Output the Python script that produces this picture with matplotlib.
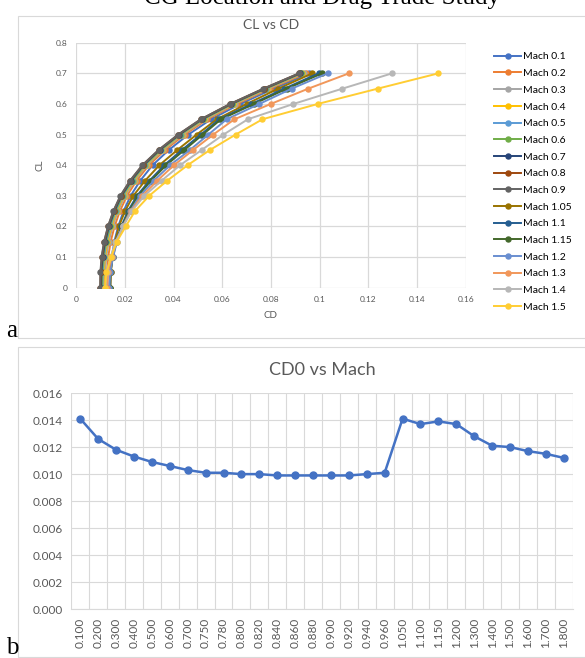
import matplotlib
matplotlib.use("Agg")
import matplotlib.pyplot as plt
from matplotlib.patches import Rectangle
from matplotlib.ticker import FuncFormatter

W, H = 585, 658

# ---- panel a data: CD for each Mach at CL = 0 .. 0.7 ----
cl = [0, 0.05, 0.1, 0.15, 0.2, 0.25, 0.3, 0.35, 0.4, 0.45, 0.5, 0.55, 0.6, 0.65, 0.7]

mach_labels = ["Mach 0.1", "Mach 0.2", "Mach 0.3", "Mach 0.4", "Mach 0.5", "Mach 0.6",
               "Mach 0.7", "Mach 0.8", "Mach 0.9", "Mach 1.05", "Mach 1.1", "Mach 1.15",
               "Mach 1.2", "Mach 1.3", "Mach 1.4", "Mach 1.5"]

cd_m01 = [0.0141, 0.0142, 0.0147, 0.0157, 0.0173, 0.0195, 0.0224, 0.0264, 0.0314, 0.0381, 0.0461, 0.0554, 0.0674, 0.0811, 0.0957]
cd_m02 = [0.0126, 0.0127, 0.0132, 0.0142, 0.0158, 0.0180, 0.0209, 0.0249, 0.0299, 0.0366, 0.0446, 0.0539, 0.0659, 0.0796, 0.0942]
cd_m03 = [0.0118, 0.0119, 0.0124, 0.0134, 0.0150, 0.0172, 0.0201, 0.0241, 0.0291, 0.0358, 0.0438, 0.0531, 0.0651, 0.0788, 0.0934]
cd_m04 = [0.0113, 0.0114, 0.0119, 0.0129, 0.0145, 0.0167, 0.0196, 0.0236, 0.0286, 0.0353, 0.0433, 0.0526, 0.0646, 0.0783, 0.0929]
cd_m05 = [0.0109, 0.0110, 0.0115, 0.0125, 0.0141, 0.0163, 0.0192, 0.0232, 0.0282, 0.0349, 0.0429, 0.0522, 0.0642, 0.0779, 0.0925]
cd_m06 = [0.0106, 0.0107, 0.0112, 0.0122, 0.0138, 0.0160, 0.0189, 0.0229, 0.0279, 0.0346, 0.0426, 0.0519, 0.0639, 0.0776, 0.0922]
cd_m07 = [0.0103, 0.0104, 0.0109, 0.0119, 0.0135, 0.0157, 0.0186, 0.0226, 0.0276, 0.0343, 0.0423, 0.0516, 0.0636, 0.0773, 0.0919]
cd_m08 = [0.0100, 0.0101, 0.0106, 0.0116, 0.0132, 0.0154, 0.0183, 0.0223, 0.0273, 0.0340, 0.0420, 0.0513, 0.0633, 0.0770, 0.0916]
cd_m09 = [0.0099, 0.0100, 0.0105, 0.0115, 0.0131, 0.0153, 0.0182, 0.0222, 0.0272, 0.0339, 0.0419, 0.0512, 0.0632, 0.0769, 0.0915]
cd_m105 = [0.0141, 0.0143, 0.0150, 0.0160, 0.0176, 0.0201, 0.0235, 0.0284, 0.0342, 0.0416, 0.0495, 0.0578, 0.0700, 0.0830, 0.0970]
cd_m11 = [0.0137, 0.0139, 0.0149, 0.0164, 0.0186, 0.0213, 0.0250, 0.0302, 0.0362, 0.0435, 0.0512, 0.0588, 0.0720, 0.0855, 0.0995]
cd_m115 = [0.0139, 0.0141, 0.0151, 0.0166, 0.0189, 0.0217, 0.0255, 0.0308, 0.0370, 0.0445, 0.0520, 0.0595, 0.0730, 0.0865, 0.1010]
cd_m12 = [0.0137, 0.0140, 0.0152, 0.0168, 0.0192, 0.0222, 0.0263, 0.0320, 0.0386, 0.0468, 0.0543, 0.0618, 0.0752, 0.0885, 0.1033]
cd_m13 = [0.0128, 0.0132, 0.0146, 0.0165, 0.0192, 0.0225, 0.0272, 0.0334, 0.0402, 0.0481, 0.0563, 0.0650, 0.0799, 0.0953, 0.1120]
cd_m14 = [0.0121, 0.0126, 0.0142, 0.0162, 0.0193, 0.0228, 0.0280, 0.0352, 0.0427, 0.0516, 0.0605, 0.0705, 0.0892, 0.1093, 0.1297]
cd_m15 = [0.0119, 0.0125, 0.0144, 0.0167, 0.0204, 0.0242, 0.0300, 0.0375, 0.0458, 0.0550, 0.0655, 0.0765, 0.0992, 0.1238, 0.1487]

cd_series = [cd_m01, cd_m02, cd_m03, cd_m04, cd_m05, cd_m06, cd_m07, cd_m08, cd_m09,
             cd_m105, cd_m11, cd_m115, cd_m12, cd_m13, cd_m14, cd_m15]

colors = ["#4472C4", "#ED7D31", "#A5A5A5", "#FFC000", "#5B9BD5", "#70AD47",
          "#264478", "#9E480E", "#636363", "#997300", "#255E91", "#43682B",
          "#698ED0", "#F1975A", "#B7B7B7", "#FFCD33"]

# ---- panel b data: CD0 vs Mach ----
mach_cats = ["0.100", "0.200", "0.300", "0.400", "0.500", "0.600", "0.700", "0.750",
             "0.780", "0.800", "0.820", "0.840", "0.860", "0.880", "0.900", "0.920",
             "0.940", "0.960", "1.050", "1.100", "1.150", "1.200", "1.300", "1.400",
             "1.500", "1.600", "1.700", "1.800"]
cd0 = [0.0141, 0.0126, 0.0118, 0.0113, 0.0109, 0.0106, 0.0103, 0.0101,
       0.0101, 0.0100, 0.0100, 0.0099, 0.0099, 0.0099, 0.0099, 0.0099,
       0.0100, 0.0101, 0.0141, 0.0137, 0.0139, 0.0137, 0.0128, 0.0121,
       0.0120, 0.0117, 0.0115, 0.0112]

plt.rcParams['font.family'] = ['Lato', 'DejaVu Sans']
txt = "#595959"
grid = "#D9D9D9"

fig = plt.figure(figsize=(W / 100, H / 100), dpi=100)


def fx(px):
    return px / W


def fy(py):
    return 1 - py / H


# panel frames
fig.patches.append(Rectangle((fx(18), fy(338)), fx(570), (338 - 16) / H, transform=fig.transFigure,
                             fill=False, edgecolor=grid, linewidth=0.8))
fig.patches.append(Rectangle((fx(18), fy(656.5)), fx(570), (656.5 - 346.5) / H, transform=fig.transFigure,
                             fill=False, edgecolor=grid, linewidth=0.8))

# caption of the page above, only its lower edge is in view
fig.text(0.55, fy(4), "CG Location and Drag Trade Study", ha="center", va="baseline",
         fontsize=18, family="Liberation Serif", color="black")
fig.text(fx(6), fy(337), "a", fontsize=18, family="Liberation Serif", color="black")
fig.text(fx(6), fy(654), "b", fontsize=18, family="Liberation Serif", color="black")

# ---- panel a ----
ax1 = fig.add_axes([fx(76), fy(287.7), 390 / W, 245 / H])
for cd, c, lab in zip(cd_series, colors, mach_labels):
    ax1.plot(cd, cl, color=c, linewidth=1.4, marker="o", markersize=3.6, label=lab)
ax1.set_xlim(0, 0.16)
ax1.set_ylim(0, 0.8)
ax1.set_xticks([0, 0.02, 0.04, 0.06, 0.08, 0.1, 0.12, 0.14, 0.16])
ax1.set_yticks([0, 0.1, 0.2, 0.3, 0.4, 0.5, 0.6, 0.7, 0.8])
fmt = FuncFormatter(lambda v, p: f"{v:g}")
ax1.xaxis.set_major_formatter(fmt)
ax1.yaxis.set_major_formatter(fmt)
ax1.grid(True, color=grid, linewidth=0.9)
ax1.set_axisbelow(True)
for s in ax1.spines.values():
    s.set_visible(False)
ax1.tick_params(length=0, labelsize=6, colors=txt, pad=6)
ax1.set_title("CL vs CD", fontsize=10, color=txt, pad=10)
ax1.set_xlabel("CD", fontsize=7, color=txt, labelpad=6)
ax1.set_ylabel("CL", fontsize=7, color=txt, labelpad=8)

fig.legend(*ax1.get_legend_handles_labels(), loc="upper left",
           bbox_to_anchor=(fx(490), fy(48)), frameon=False, fontsize=7.5,
           handlelength=2.6, handletextpad=0.15, labelspacing=0.71, borderaxespad=0)

# ---- panel b ----
ax2 = fig.add_axes([fx(71.3), fy(609.3), 501.4 / W, 216.3 / H])
xpos = list(range(len(mach_cats)))
ax2.plot(xpos, cd0, color="#4472C4", linewidth=1.8, marker="o", markersize=5)
ax2.set_xlim(-0.5, len(mach_cats) - 0.5)
ax2.set_ylim(0, 0.016)
ax2.set_yticks([0.0, 0.002, 0.004, 0.006, 0.008, 0.010, 0.012, 0.014, 0.016])
ax2.yaxis.set_major_formatter(FuncFormatter(lambda v, p: f"{v:.3f}"))
ax2.set_xticks(xpos)
ax2.set_xticklabels(mach_cats, rotation=90)
ax2.set_xticks([i - 0.5 for i in range(len(mach_cats) + 1)], minor=True)
ax2.grid(True, which="minor", axis="x", color=grid, linewidth=0.8)
ax2.grid(True, which="major", axis="y", color=grid, linewidth=0.8)
ax2.set_axisbelow(True)
for s in ax2.spines.values():
    s.set_visible(False)
ax2.spines["bottom"].set_visible(True)
ax2.spines["bottom"].set_color(grid)
ax2.tick_params(which="both", length=0, labelsize=8.5, colors=txt, pad=6)
ax2.set_title("CD0 vs Mach", fontsize=13, color=txt, pad=13)

fig.savefig("out.png", dpi=100)
